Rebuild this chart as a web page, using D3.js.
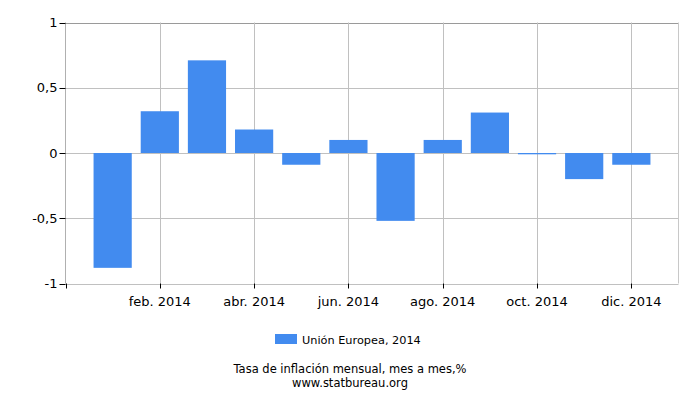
<!DOCTYPE html>
<html>
<head>
<meta charset="utf-8">
<script src="https://cdn.jsdelivr.net/npm/d3@7"></script>
<style>
  body { margin: 0; background: #fff; }
  svg { display: block; font-family: "DejaVu Sans", sans-serif; }
</style>
</head>
<body>
<div id="chart"></div>
<script>
// monthly inflation, EU 2014 (month over month, %)
const months = ["ene. 2014", "feb. 2014", "mar. 2014", "abr. 2014", "may. 2014", "jun. 2014",
                "jul. 2014", "ago. 2014", "sep. 2014", "oct. 2014", "nov. 2014", "dic. 2014"];
const values = [-0.88, 0.32, 0.71, 0.18, -0.09, 0.10, -0.52, 0.10, 0.31, -0.01, -0.20, -0.09];
const yTicks = [-1, -0.5, 0, 0.5, 1];
const seriesName = "Unión Europea, 2014";
const titleText = "Tasa de inflación mensual, mes a mes,%";
const sourceText = "www.statbureau.org";

const width = 700, height = 400;
const margin = {top: 22.5, right: 21.5, bottom: 116.5, left: 65.5};
const innerW = width - margin.left - margin.right;
const innerH = height - margin.top - margin.bottom;

const svg = d3.select("#chart").append("svg")
    .attr("width", width)
    .attr("height", height);

// one empty month of padding on each side
const x = d3.scaleLinear().domain([0, months.length + 1]).range([margin.left, margin.left + innerW]);
const y = d3.scaleLinear().domain([-1, 1]).range([margin.top + innerH, margin.top]);
const step = x(1) - x(0);
const barW = step * 0.81;

const fmt = d => String(d).replace(".", ",");
const tickIdx = d3.range(1, months.length, 2);

// grid
svg.append("g")
  .selectAll("line")
  .data(yTicks)
  .join("line")
    .attr("x1", margin.left).attr("x2", margin.left + innerW)
    .attr("y1", d => Math.round(y(d)) + 0.5).attr("y2", d => Math.round(y(d)) + 0.5)
    .attr("stroke", d => d === 1 ? "#9a9a9a" : "#c0c0c0");

svg.append("g")
  .selectAll("line")
  .data(tickIdx)
  .join("line")
    .attr("x1", i => Math.round(x(i + 1)) + 0.5).attr("x2", i => Math.round(x(i + 1)) + 0.5)
    .attr("y1", margin.top).attr("y2", margin.top + innerH)
    .attr("stroke", "#c0c0c0");

// frame
svg.append("line")
    .attr("x1", margin.left).attr("x2", margin.left)
    .attr("y1", margin.top).attr("y2", margin.top + innerH)
    .attr("stroke", "#b0b0b0");
svg.append("line")
    .attr("x1", margin.left + innerW).attr("x2", margin.left + innerW)
    .attr("y1", margin.top).attr("y2", margin.top + innerH)
    .attr("stroke", "#c8c8c8");

// bars
svg.append("g")
  .selectAll("rect")
  .data(values)
  .join("rect")
    .attr("x", (d, i) => x(i + 1) - barW / 2)
    .attr("width", barW)
    .attr("y", d => Math.min(y(d), y(0)))
    .attr("height", d => Math.max(1, Math.abs(y(d) - y(0))))
    .attr("fill", "#428bef");

// y ticks
const yAxis = svg.append("g");
yAxis.selectAll("line")
  .data(yTicks)
  .join("line")
    .attr("x1", margin.left - 6).attr("x2", margin.left)
    .attr("y1", d => Math.round(y(d)) + 0.5).attr("y2", d => Math.round(y(d)) + 0.5)
    .attr("stroke", "#000");
yAxis.selectAll("text")
  .data(yTicks)
  .join("text")
    .attr("x", margin.left - 8)
    .attr("y", d => y(d))
    .attr("dy", "0.35em")
    .attr("text-anchor", "end")
    .attr("font-size", 13)
    .attr("fill", "#000")
    .text(fmt);

// x ticks
const xAxis = svg.append("g");
xAxis.selectAll("line")
  .data([-1].concat(tickIdx))
  .join("line")
    .attr("x1", i => Math.round(x(i + 1)) + 0.5).attr("x2", i => Math.round(x(i + 1)) + 0.5)
    .attr("y1", margin.top + innerH).attr("y2", margin.top + innerH + 5)
    .attr("stroke", "#000");
xAxis.selectAll("text")
  .data(tickIdx)
  .join("text")
    .attr("x", i => x(i + 1))
    .attr("y", margin.top + innerH + 22)
    .attr("text-anchor", "middle")
    .attr("font-size", 13)
    .attr("fill", "#000")
    .text(i => months[i]);

// legend
const legend = svg.append("g").attr("transform", "translate(275,334)");
legend.append("rect").attr("width", 22).attr("height", 10).attr("fill", "#428bef");
legend.append("text")
    .attr("x", 27).attr("y", 10)
    .attr("font-size", 11.3)
    .text(seriesName);

svg.append("text")
    .attr("x", 350).attr("y", 373)
    .attr("text-anchor", "middle")
    .attr("font-size", 11.5)
    .text(titleText);
svg.append("text")
    .attr("x", 350).attr("y", 386.5)
    .attr("text-anchor", "middle")
    .attr("font-size", 11.5)
    .text(sourceText);
</script>
</body>
</html>
